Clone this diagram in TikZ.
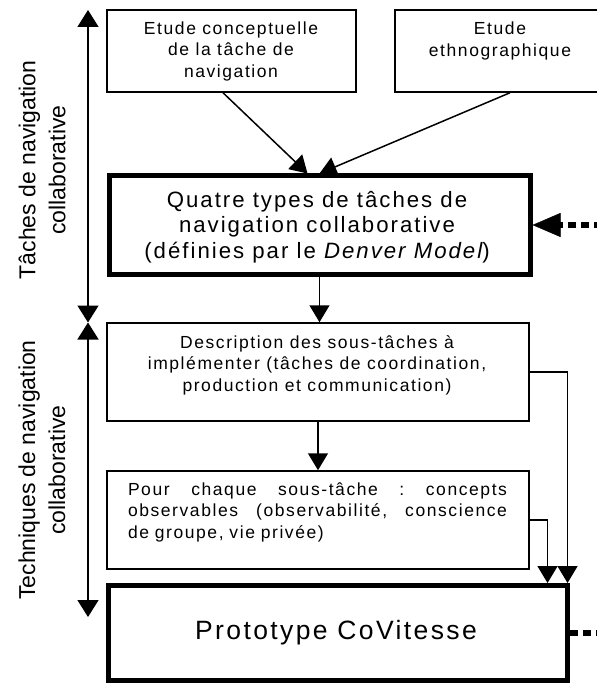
\documentclass[tikz,border=0pt]{standalone}
\usepackage{fontspec}
\setmainfont{Liberation Sans}
\newfontfamily\trackfont[LetterSpace=9]{Liberation Sans}
\usetikzlibrary{arrows.meta}
\begin{document}
\begin{tikzpicture}[x=1pt,y=-1pt,
  box/.style={draw, line width=1.5pt, inner sep=0pt},
  heavybox/.style={draw, line width=5pt, inner sep=0pt},
  smalltext/.style={inner sep=0pt, align=center, font=\trackfont\fontsize{17.5}{21.5}\selectfont},
  arr/.style={line width=1.5pt, -{Triangle[length=17pt,width=20pt]}},
  axis/.style={line width=1.5pt, {Triangle[length=17pt,width=21pt]}-{Triangle[length=17pt,width=21pt]}},
  dotarrow/.style={line width=6pt, dash pattern=on 8pt off 5pt,
    -{Triangle[length=28pt,width=24pt,line width=0.5pt]}},
  dotline/.style={line width=6pt, dash pattern=on 8pt off 5pt},
  sidelabel/.style={rotate=90, inner sep=0pt, align=center, font=\fontsize{23}{30}\selectfont}
]
\useasboundingbox (0,0) rectangle (596,684);

% boxes
\node[box, minimum width=249pt, minimum height=82pt] (b1) at (231.5,51) {};
\node[box, minimum width=210pt, minimum height=82pt] (b2) at (500,51) {};
\node[heavybox, minimum width=421pt, minimum height=98pt] (quatre) at (319.5,225) {};
\node[box, minimum width=422pt, minimum height=98pt] (desc) at (318,372) {};
\node[box, minimum width=422pt, minimum height=98pt] (pour) at (318,520) {};
\node[heavybox, minimum width=459pt, minimum height=95pt] (proto) at (338,633) {};

% box texts
\node[smalltext] (b1t) at (231,51) {Etude conceptuelle\\de la tâche de\\navigation};
\node[smalltext] (b2t) at (500,41) {Etude\\ethnographique};
\node[inner sep=0pt, align=center, font=\trackfont\fontsize{22.2}{25.5}\selectfont] (quatret) at (317,227)
  {Quatre types de tâches de\\navigation collaborative\\(définies par le {\itshape Denver Model})};
\node[smalltext] (desct) at (317,365)
  {Description des sous-tâches à\\implémenter (tâches de coordination,\\production et communication)};
\node[smalltext, align=left, text width=379pt] (pourt) at (317.5,512)
  {\makebox[379pt][l]{Pour\hfill chaque\hfill sous-tâche\hfill :\hfill concepts}\\
   \makebox[379pt][l]{observables\hfill (observabilité,\hfill conscience}\\
   de groupe, vie privée)};
\node[inner sep=0pt, font=\trackfont\fontsize{26.5}{30}\selectfont] (protot) at (336,633) {Prototype CoVitesse};

% side labels
\node[sidelabel] (lab1) at (42,170) {Tâches de navigation\\collaborative};
\node[sidelabel] (lab2) at (42,470) {Techniques de navigation\\collaborative};

% side ranges
\coordinate (u1) at (88,10);
\coordinate (u2) at (88,322.5);
\coordinate (l1) at (88,322.5);
\coordinate (l2) at (88,617);
\draw[axis] (u1) -- (u2);
\draw[axis] (l1) -- (l2);

% connectors
\draw[arr] ([xshift=-8.5pt]b1.south) -- ([xshift=-12pt]quatre.north);
\draw[arr] ([xshift=10pt]b2.south) -- ([xshift=0pt]quatre.north);
\draw[arr] (quatre.south) -- (quatre.south |- desc.north);
\draw[arr] (desc.south) -- (desc.south |- pour.north);
\draw[arr] (desc.east) -| ([xshift=-2.5pt]proto.north east);
\draw[arr] (pour.east) -| ([xshift=-22.5pt]proto.north east);

% dotted links to the right
\coordinate (qin) at (602,225);
\coordinate (pout) at (602,633);
\draw[dotarrow] (qin) -- (quatre.east);
\draw[dotline] (proto.east) -- (pout);
\end{tikzpicture}
\end{document}
